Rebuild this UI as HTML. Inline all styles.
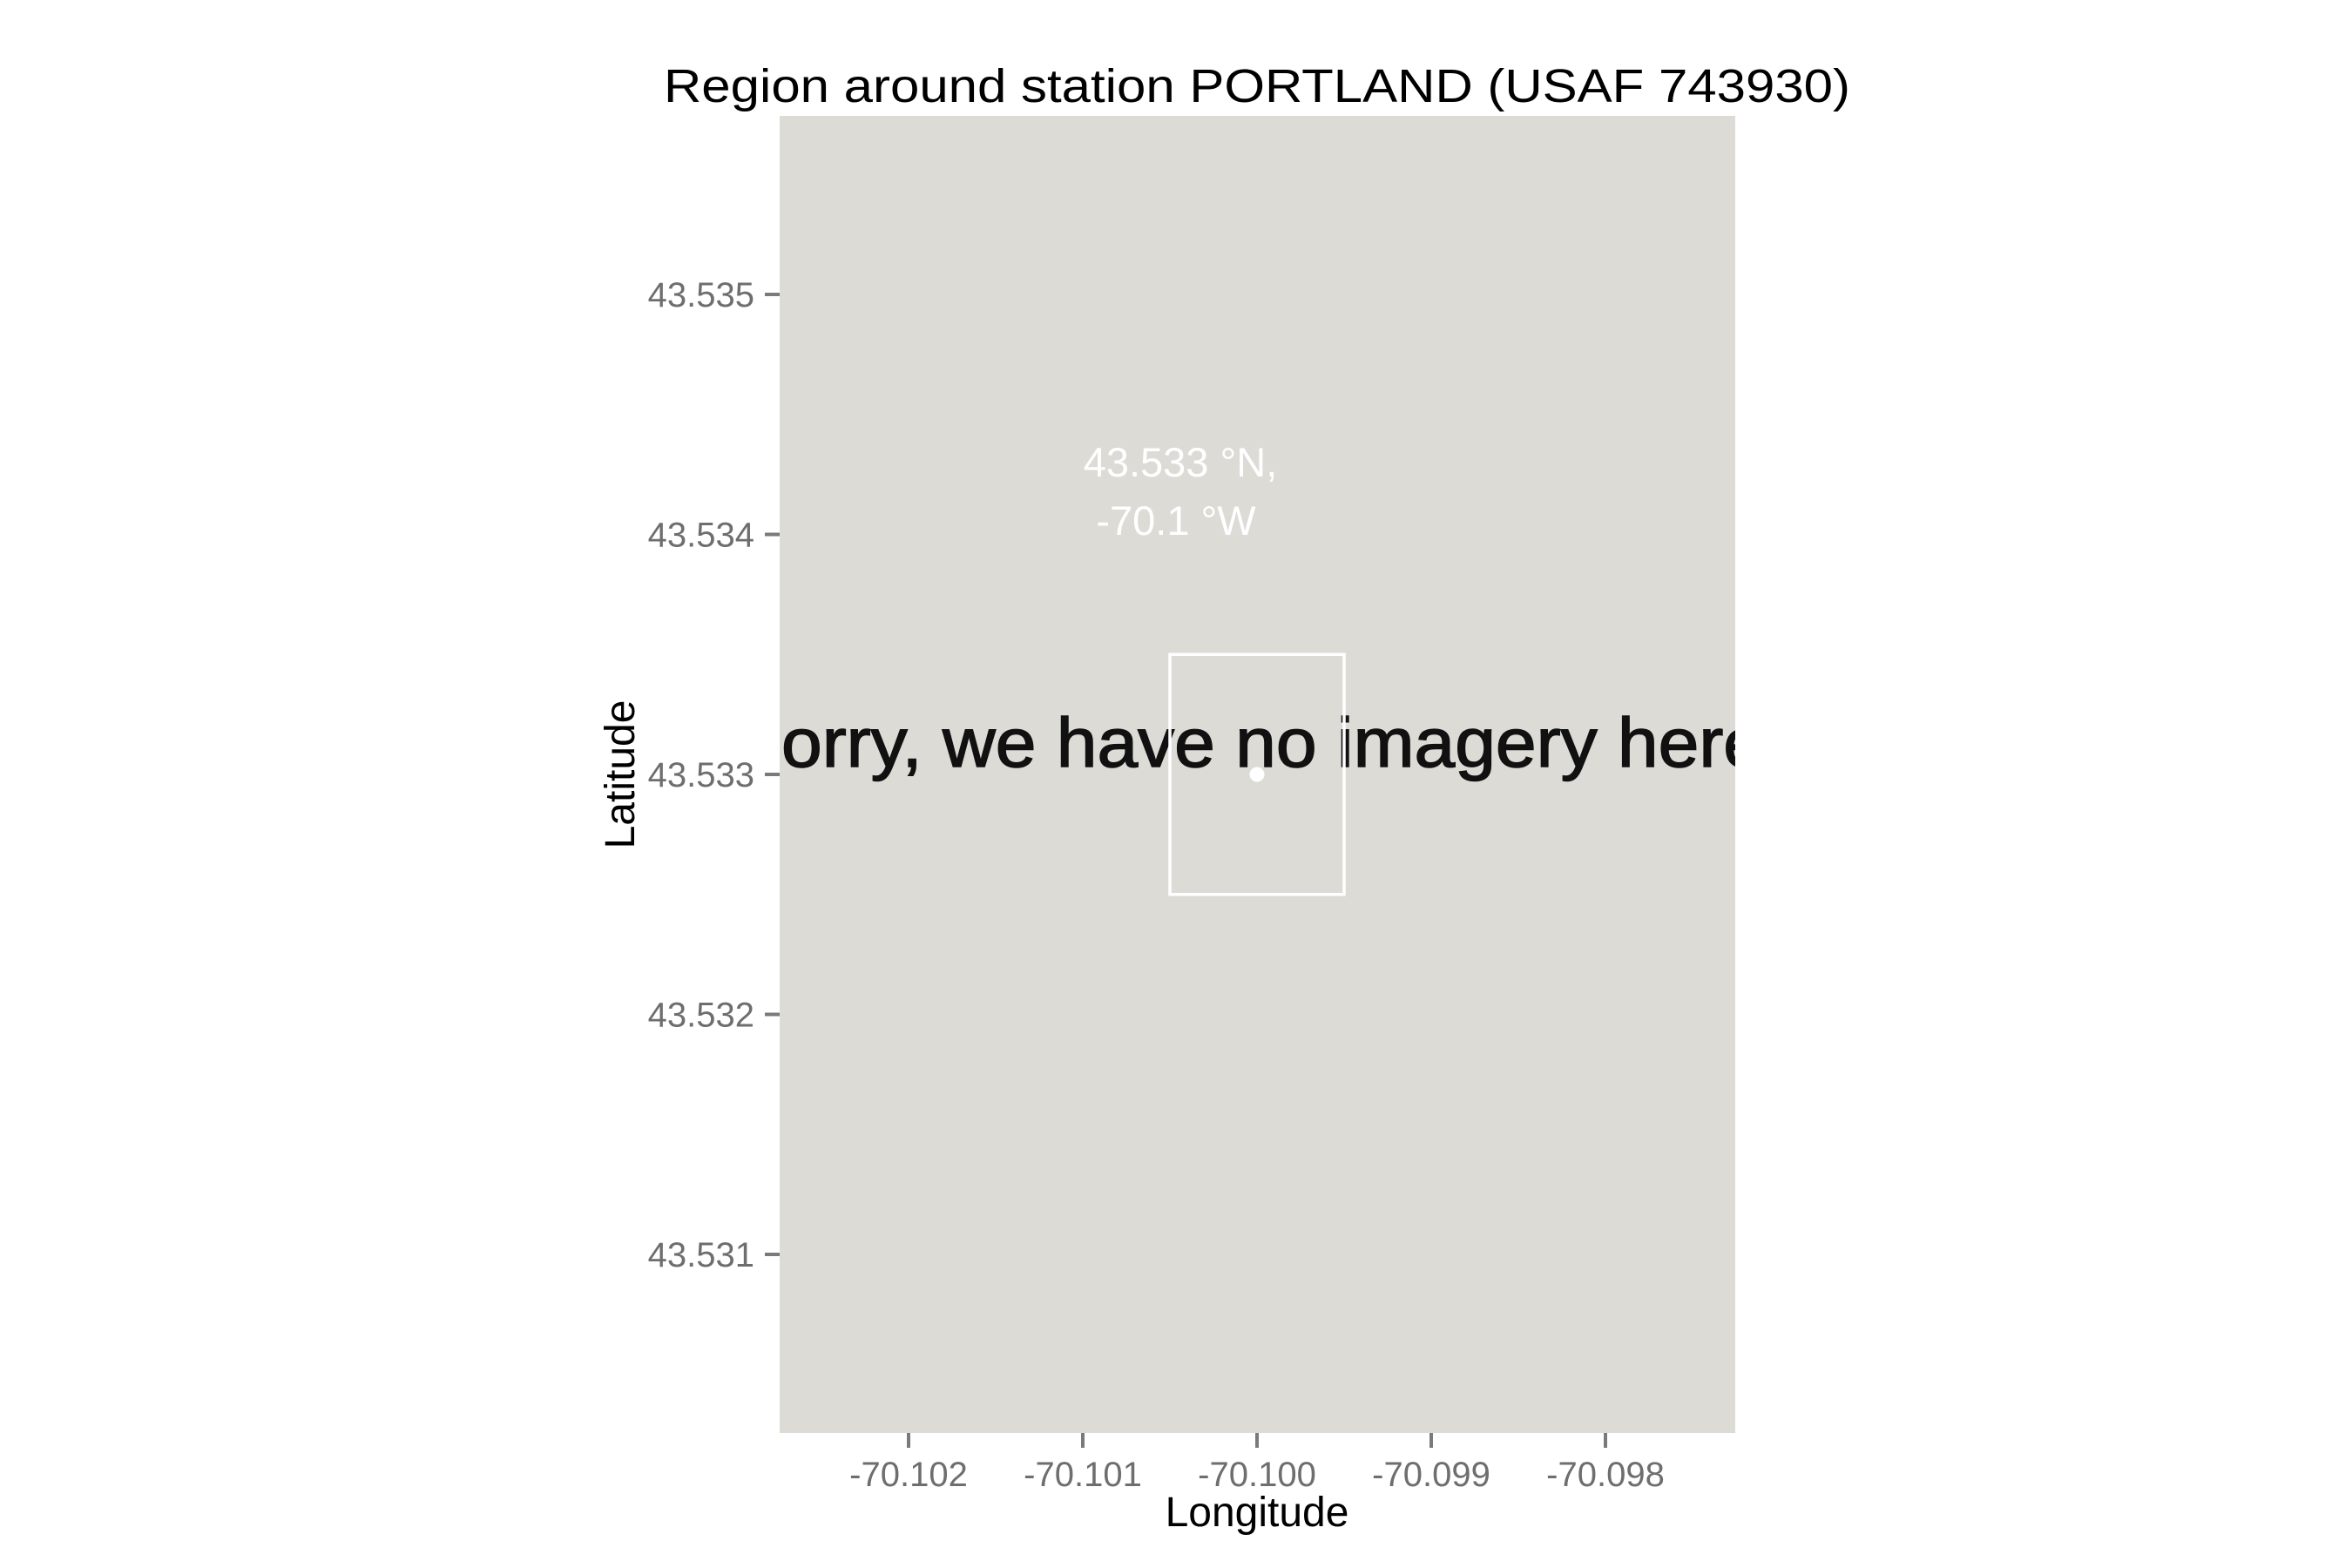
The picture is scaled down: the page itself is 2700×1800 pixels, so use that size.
<!DOCTYPE html>
<html><head><meta charset="utf-8"><style>
html,body{margin:0;padding:0;background:#fff;}
svg{display:block;font-family:"Liberation Sans",sans-serif;}
</style></head><body>
<svg id="chart" width="2700" height="1800" viewBox="0 0 2700 1800" xmlns="http://www.w3.org/2000/svg">
<defs><clipPath id="pc"><rect x="895" y="133" width="1097" height="1512"/></clipPath></defs>
<text x="1443" y="117" font-size="54" text-anchor="middle" textLength="1362" lengthAdjust="spacingAndGlyphs" fill="#000">Region around station PORTLAND (USAF 743930)</text>
<rect x="895" y="133" width="1097" height="1512" fill="#dcdbd6"/>
<g clip-path="url(#pc)">
<text x="897" y="880" font-size="80" textLength="1128" lengthAdjust="spacingAndGlyphs" fill="#111" stroke="#111" stroke-width="1.5">orry, we have no imagery here</text>
</g>
<g id="marks"></g>
<g id="axes"></g>
<text x="1443" y="1752" font-size="48" text-anchor="middle" fill="#000">Longitude</text>
<text transform="translate(728,889) rotate(-90)" font-size="48" text-anchor="middle" fill="#000">Latitude</text>
</svg>
<script>
const xTicks = [-70.102, -70.101, -70.100, -70.099, -70.098];
const xTickLabels = ["-70.102", "-70.101", "-70.100", "-70.099", "-70.098"];
const yTicks = [43.535, 43.534, 43.533, 43.532, 43.531];
const yTickLabels = ["43.535", "43.534", "43.533", "43.532", "43.531"];
const stationLon = [-70.100];
const stationLat = [43.533];
const boxLon = [-70.1005, -70.0995];
const boxLat = [43.5325, 43.5335];
const labelLines = ["43.533 °N,", "-70.1 °W"];

const NS = "http://www.w3.org/2000/svg";
function xScale(v){ return 1443 + (v + 70.100) * 200000; }
function yScale(v){ return 889 - (v - 43.533) * 275500; }
function mk(tag, attrs, parent){
  const e = document.createElementNS(NS, tag);
  for (const k in attrs) e.setAttribute(k, attrs[k]);
  parent.appendChild(e);
  return e;
}
const axes = document.getElementById('axes');
const marks = document.getElementById('marks');

xTicks.forEach((v, i) => {
  const x = xScale(v);
  const t = mk('line', {x1:x, x2:x, y1:1645, y2:1662, stroke:'#7a7a7a', 'stroke-width':4}, axes);
  
  
  const l = mk('text', {x:x, y:1706, 'font-size':40, 'text-anchor':'middle', fill:'#6e6e6e'}, axes);
  l.textContent = xTickLabels[i];
  
  
});
yTicks.forEach((v, i) => {
  const y = yScale(v);
  const t = mk('line', {x1:878, x2:895, y1:y, y2:y, stroke:'#7a7a7a', 'stroke-width':4}, axes);
  
  
  const l = mk('text', {x:866, y:y + 14, 'font-size':40, 'text-anchor':'end', fill:'#6e6e6e'}, axes);
  l.textContent = yTickLabels[i];
  
  
});

const bx = xScale(boxLon[0]), bx2 = xScale(boxLon[1]);
const by = yScale(boxLat[1]), by2 = yScale(boxLat[0]);
const box = mk('rect', {x:bx, y:by, width:bx2 - bx, height:by2 - by, fill:'none', stroke:'#ffffff', 'stroke-width':3.5}, marks);



stationLon.forEach((lon, i) => {
  const p = mk('circle', {cx:xScale(lon), cy:yScale(stationLat[i]), r:8.5, fill:'#ffffff'}, marks);
  
  
});

const lab = mk('text', {'font-size':47, 'text-anchor':'middle', fill:'#ffffff'}, marks);


labelLines.forEach((s, i) => {
  const ts = mk('tspan', {x: i === 0 ? 1355 : 1350, y: i === 0 ? 547 : 614}, lab);
  ts.textContent = s;
});
</script>
</body></html>
